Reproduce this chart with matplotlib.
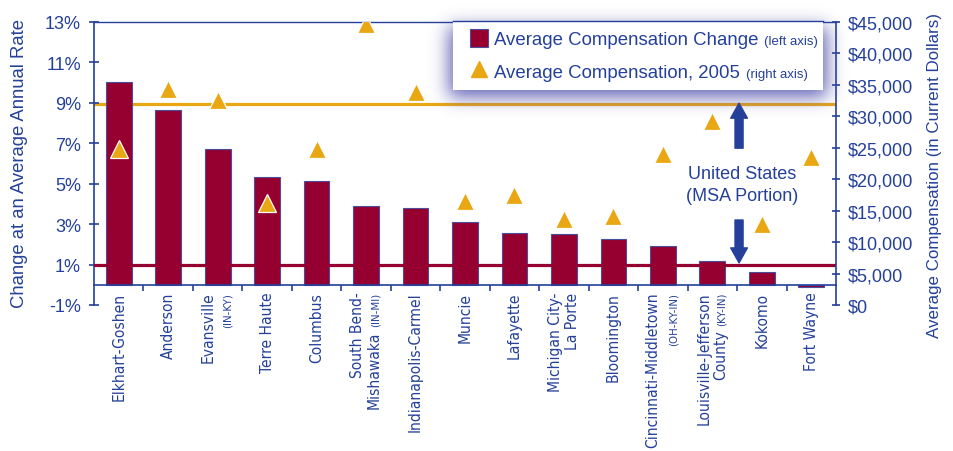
import numpy as np
import matplotlib
matplotlib.use("Agg")
import matplotlib.pyplot as plt
from matplotlib import font_manager
from matplotlib.font_manager import FontProperties
from matplotlib.patches import Rectangle
from matplotlib.lines import Line2D

# ---- data ----
cities = ["Elkhart-Goshen", "Anderson", "Evansville", "Terre Haute", "Columbus",
          "South Bend-Mishawaka", "Indianapolis-Carmel", "Muncie", "Lafayette",
          "Michigan City-La Porte", "Bloomington", "Cincinnati-Middletown",
          "Louisville-Jefferson County", "Kokomo", "Fort Wayne"]
comp_change = [10.0, 8.63, 6.69, 5.35, 5.12, 3.87, 3.77, 3.12, 2.58, 2.51,
               2.28, 1.90, 1.16, 0.63, -0.1]
comp_2005 = [24780, 34340, 32620, 16150, 24730, 44700, 33810, 16540, 17500,
             13630, 14150, 23980, 29210, 12940, 23450]
us_change = 1.0
us_comp = 31900

# tick label lines: (main text, small text) per line
tick_lines = [
    [("Elkhart-Goshen", "")],
    [("Anderson", "")],
    [("Evansville", ""), ("", "(IN-KY)")],
    [("Terre Haute", "")],
    [("Columbus", "")],
    [("South Bend-", ""), ("Mishawaka", "(IN-MI)")],
    [("Indianapolis-Carmel", "")],
    [("Muncie", "")],
    [("Lafayette", "")],
    [("Michigan City-", ""), ("La Porte", "")],
    [("Bloomington", "")],
    [("Cincinnati-Middletown", ""), ("", "(OH-KY-IN)")],
    [("Louisville-Jefferson", ""), ("County", "(KY-IN)")],
    [("Kokomo", "")],
    [("Fort Wayne", "")],
]
left_ticks = list(range(-1, 14, 2))
right_ticks = list(range(0, 45001, 5000))

NAVY = "#24409A"
BAR = "#960030"
ORANGE = "#E9A713"
W, H, DPI = 954, 452, 100

plt.rcParams['font.family'] = ['Liberation Sans', 'DejaVu Sans']

# pick a narrow sans font for the category labels if one is installed
narrow_path = None
for f in font_manager.fontManager.ttflist:
    if f.name in ('Liberation Sans Narrow', 'Arial Narrow') and f.weight in (400, 'normal', 'regular') \
            and f.style == 'normal':
        narrow_path = f.fname
        break
if narrow_path is None:
    for f in font_manager.fontManager.ttflist:
        fn = f.fname.lower()
        if ('condensed' in fn or 'narrow' in fn) and 'bold' not in fn and 'italic' not in fn \
                and 'oblique' not in fn and 'serif' not in fn and 'mono' not in fn \
                and 'light' not in fn and 'semi' not in fn and 'extra' not in fn:
            narrow_path = f.fname
            break


def cat_font(size):
    if narrow_path:
        return FontProperties(fname=narrow_path, size=size)
    return FontProperties(family='Liberation Sans', size=size)


def fx(x):
    return x / W


def fy(y):
    return 1 - y / H


fig = plt.figure(figsize=(W / DPI, H / DPI), dpi=DPI)
ax = fig.add_axes([fx(94), fy(306), (836 - 94) / W, (306 - 22.7) / H])
ax2 = ax.twinx()

x = np.arange(len(cities))
lo, hi = -1, 13
cmax = 45000


def comp_to_pct(v):
    return v / cmax * (hi - lo) + lo


ax.axhline(comp_to_pct(us_comp), color=ORANGE, lw=2.3, zorder=1)
ax.bar(x, comp_change, width=0.52, color=BAR, edgecolor="#4A4F9A", lw=0.8, zorder=2)
ax.axhline(us_change, color=BAR, lw=2.3, zorder=3)
ax.set_xlim(-0.5, len(cities) - 0.5)
ax.set_ylim(lo, hi)
ax2.set_ylim(0, cmax)
ax2.plot(x, comp_2005, ls="none", marker="^", ms=13, color=ORANGE,
         mec="white", mew=0.9, zorder=5)

# axes styling
for a in (ax, ax2):
    for s in a.spines.values():
        s.set_color(NAVY)
        s.set_linewidth(1.2)
ax.spines['right'].set_visible(False)
ax.spines['top'].set_linewidth(1.0)
ax.spines['bottom'].set_position(('data', 0))
for s in ('left', 'top', 'bottom'):
    ax2.spines[s].set_visible(False)

ax.set_yticks(left_ticks)
ax.set_yticklabels([f"{v}%" for v in left_ticks])
ax.tick_params(axis='y', direction='inout', length=7.2, width=1.2, color=NAVY,
               labelcolor=NAVY, labelsize=13, pad=5.8)
ax.set_xticks(np.arange(0.5, len(cities) - 1, 1))
ax.tick_params(axis='x', direction='out', length=4.3, width=1.2, color=NAVY,
               labelbottom=False)
ax2.set_yticks(right_ticks)
ax2.set_yticklabels([f"${v:,}" for v in right_ticks])
ax2.tick_params(axis='y', direction='inout', length=6, width=1.2, color=NAVY,
                labelcolor=NAVY, labelsize=13, pad=5.6)

# category labels (rotated, anchored at the top)
fig.canvas.draw()
rend = fig.canvas.get_renderer()

# scale the label font so "Elkhart-Goshen" is as long as in the reference (~107 px)
probe = fig.text(0, 0, "Elkhart-Goshen", fontproperties=cat_font(13))
scale = 108.0 / probe.get_window_extent(rend).width
probe.remove()
main_size = 13 * scale
small_size = 9.5 * scale

top_off = -5
for i, lines in enumerate(tick_lines):
    if len(lines) == 1:
        offs = [0]
    elif lines[1][0] == "":
        offs = [-7, 6.5]
    else:
        offs = [-6, 6]
    for (main, small), dx in zip(lines, offs):
        y0 = top_off
        if small:
            t = ax.annotate(small, xy=(i, 0), xytext=(dx + 1, y0), textcoords='offset points',
                            rotation=90, ha='center', va='top', color=NAVY,
                            fontproperties=cat_font(small_size), annotation_clip=False)
            bb = t.get_window_extent(rend)
            y0 -= bb.height * 72 / DPI + 3
        if main:
            ax.annotate(main, xy=(i, 0), xytext=(dx, y0), textcoords='offset points',
                        rotation=90, ha='center', va='top', color=NAVY,
                        fontproperties=cat_font(main_size), annotation_clip=False)

# axis titles
fig.text(fx(20), fy(163), "Change at an Average Annual Rate", rotation=90,
         ha='center', va='center', color=NAVY, fontsize=13.3)
fig.text(fx(935), fy(175), "Average Compensation (in Current Dollars)", rotation=90,
         ha='center', va='center', color=NAVY, fontsize=12.2)

# US annotation with arrows
ax_arrow = 12.54
ax.annotate("", xy=(ax_arrow, comp_to_pct(us_comp) + 0.05), xytext=(ax_arrow, 6.75),
            arrowprops=dict(width=5.8, headwidth=12, headlength=10.8, color=NAVY,
                            shrink=0), zorder=6)
ax.annotate("", xy=(ax_arrow, us_change + 0.08), xytext=(ax_arrow, 3.2),
            arrowprops=dict(width=5.8, headwidth=12, headlength=10.8, color=NAVY,
                            shrink=0), zorder=6)
ax.text(12.6, 4.95, "United States\n(MSA Portion)", ha='center', va='center',
        color=NAVY, fontsize=13, linespacing=1.35, zorder=6)

# legend glow (soft bluish shadow)
gx0, gy0, gw, gh = 390, 0, 500, 180
mask = np.zeros((gh, gw))
mask[28 - gy0:98 - gy0, 449 - gx0:827 - gx0] = 1.0
sig = 9
k = np.exp(-0.5 * (np.arange(-3 * sig, 3 * sig + 1) / sig) ** 2)
k /= k.sum()
blur = np.apply_along_axis(lambda r: np.convolve(r, k, mode='same'), 1, mask)
blur = np.apply_along_axis(lambda c: np.convolve(c, k, mode='same'), 0, blur)
glow = np.zeros((gh, gw, 4))
glow[..., 0] = 85 / 255
glow[..., 1] = 85 / 255
glow[..., 2] = 175 / 255
glow[..., 3] = 0.7 * np.clip(1.3 * blur, 0, 1)
fig.figimage(glow, xo=gx0, yo=H - gy0 - gh, origin='upper', zorder=1)

# legend box
fig.add_artist(Rectangle((fx(453), fy(90.7)), (823 - 453) / W, (90.7 - 22) / H,
                         transform=fig.transFigure, facecolor='white',
                         edgecolor='none', zorder=2))
fig.add_artist(Line2D([fx(453), fx(823)], [fy(22), fy(22)], transform=fig.transFigure,
                      color=NAVY, lw=1.0, zorder=3))
fig.add_artist(Rectangle((fx(470), fy(48)), 18 / W, 18 / H, transform=fig.transFigure,
                         facecolor=BAR, edgecolor="#4A4F9A", lw=0.8, zorder=3))
fig.add_artist(Line2D([fx(479)], [fy(70)], transform=fig.transFigure, marker='^',
                      ms=11, color=ORANGE, ls='none', zorder=3))
leg_items = [("Average Compensation Change", "(left axis)", 45),
             ("Average Compensation, 2005", "(right axis)", 78.3)]
for main, small, base in leg_items:
    t = fig.text(fx(494), fy(base), main, ha='left', va='baseline', color=NAVY,
                 fontsize=13.4, zorder=4)
    bb = t.get_window_extent(rend)
    fig.text((bb.x1 + 6) / W, fy(base), small, ha='left', va='baseline',
             color=NAVY, fontsize=9.5, zorder=4)

fig.savefig("out.png", dpi=DPI)
